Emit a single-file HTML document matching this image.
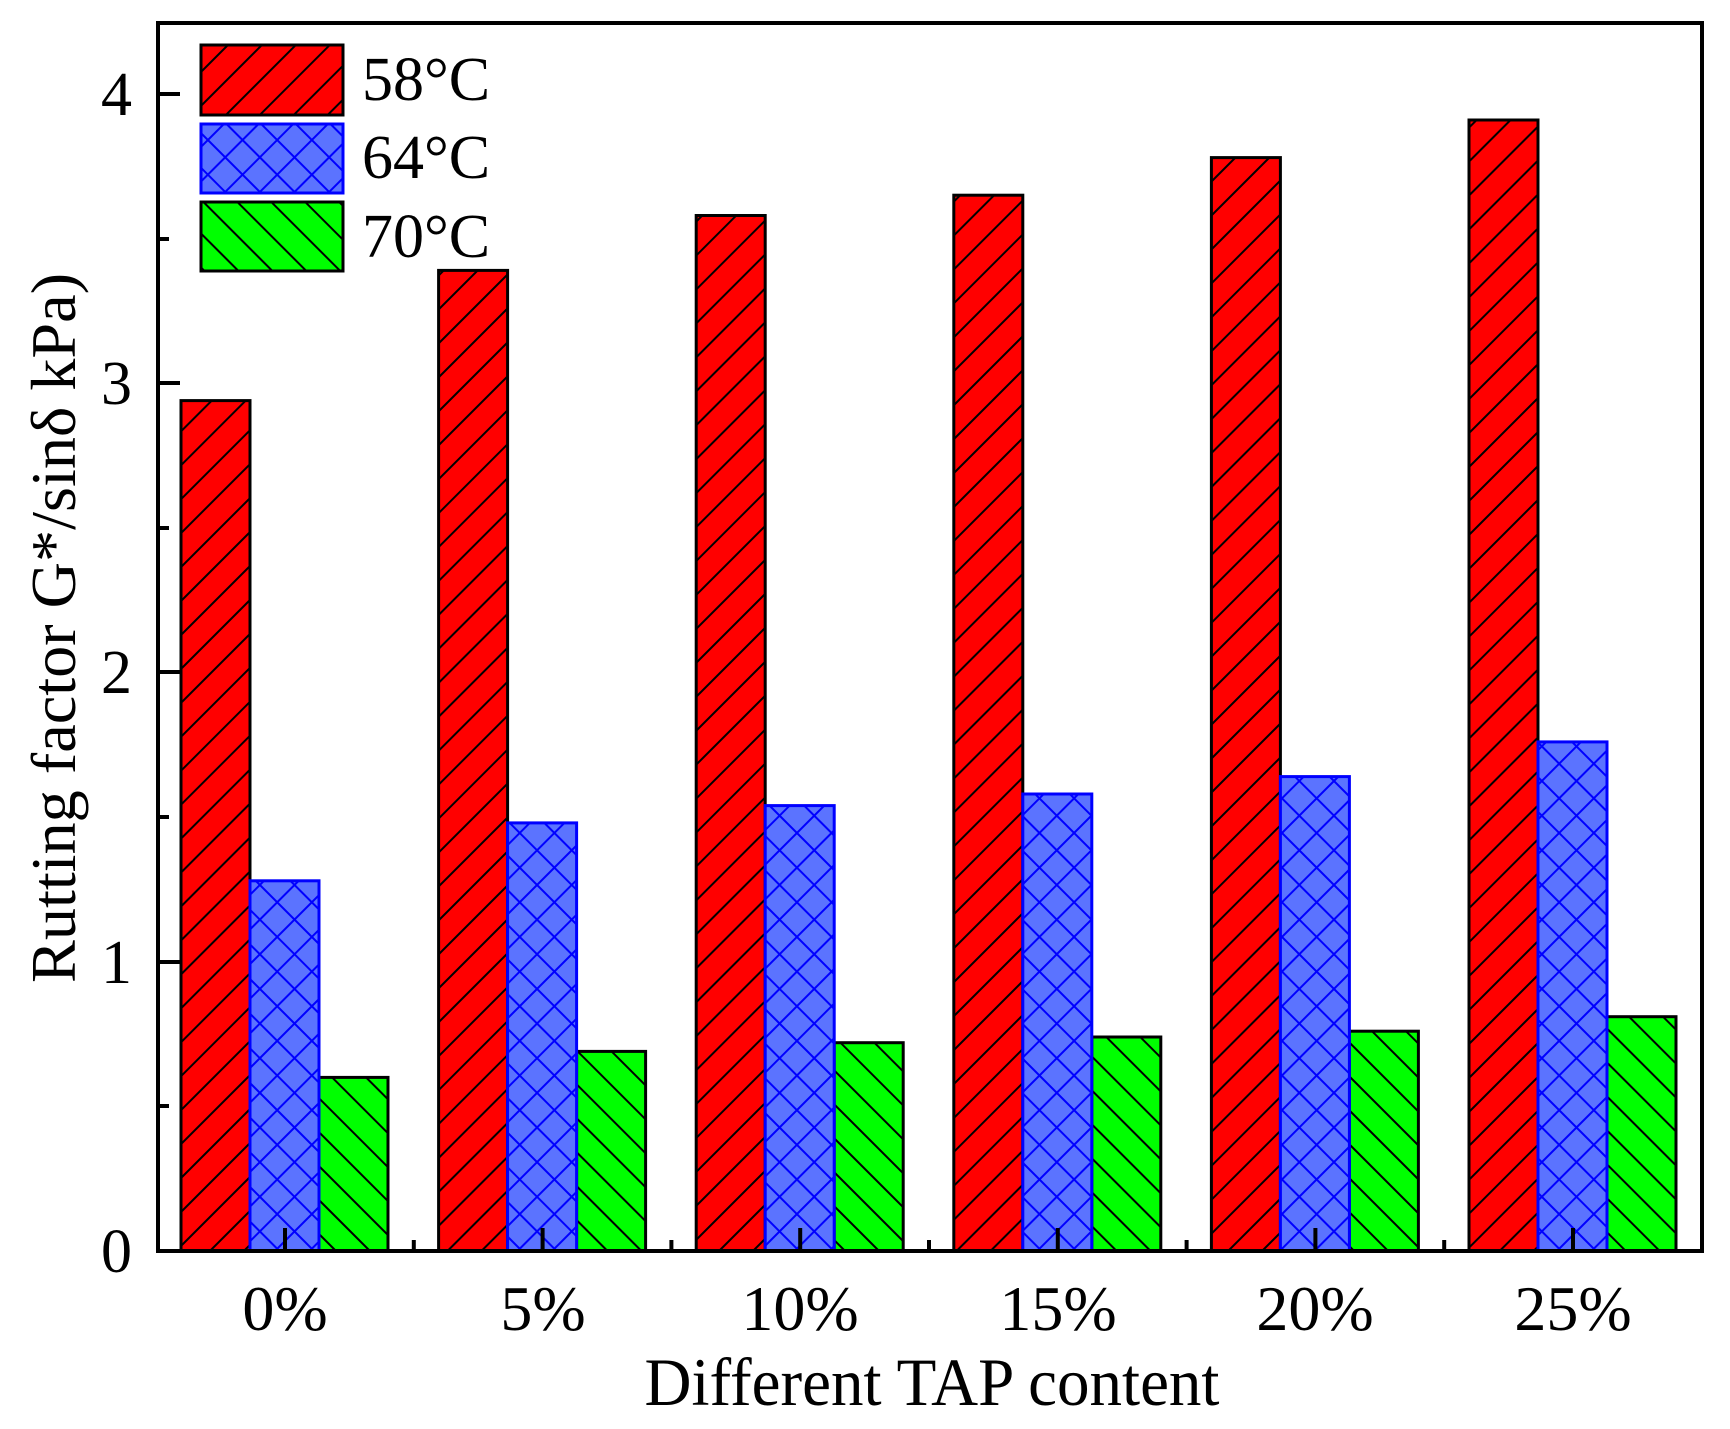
<!DOCTYPE html>
<html><head><meta charset="utf-8"><style>html,body{margin:0;padding:0;background:#fff}svg{display:block}</style></head>
<body>
<svg width="1730" height="1429" viewBox="0 0 1730 1429" xmlns="http://www.w3.org/2000/svg" font-family="'Liberation Serif', serif">
<defs>
<pattern id="pr" width="24" height="24" patternUnits="userSpaceOnUse" patternTransform="rotate(45)">
<rect width="24" height="24" fill="#ff0000"/><line x1="1" y1="0" x2="1" y2="24" stroke="#000" stroke-width="2"/></pattern>
<pattern id="pg" width="24" height="24" patternUnits="userSpaceOnUse" patternTransform="rotate(-45)">
<rect width="24" height="24" fill="#00ff00"/><line x1="1" y1="0" x2="1" y2="24" stroke="#000" stroke-width="2"/></pattern>
<pattern id="pb" width="24.5" height="24.5" patternUnits="userSpaceOnUse" patternTransform="rotate(45)">
<rect width="24.5" height="24.5" fill="#5b73ff"/><line x1="1" y1="0" x2="1" y2="24.5" stroke="#0000ff" stroke-width="2"/><line x1="0" y1="1" x2="24.5" y2="1" stroke="#0000ff" stroke-width="2"/></pattern>
</defs>
<g stroke-width="3">
<g fill="url(#pr)" stroke="#000">
<rect x="181" y="400.6" width="69" height="850.4"/>
<rect x="438.6" y="270.4" width="69" height="980.6"/>
<rect x="696.2" y="215.5" width="69" height="1035.5"/>
<rect x="953.8" y="195.2" width="69" height="1055.8"/>
<rect x="1211.4" y="157.6" width="69" height="1093.4"/>
<rect x="1469" y="120" width="69" height="1131"/>
</g>
<g fill="url(#pg)" stroke="#000">
<rect x="319" y="1077.4" width="69" height="173.6"/>
<rect x="576.6" y="1051.4" width="69" height="199.6"/>
<rect x="834.2" y="1042.7" width="69" height="208.3"/>
<rect x="1091.8" y="1037" width="69" height="214"/>
<rect x="1349.4" y="1031.2" width="69" height="219.8"/>
<rect x="1607" y="1016.7" width="69" height="234.3"/>
</g>
<g fill="url(#pb)" stroke="#0000ff">
<rect x="250" y="880.8" width="69" height="370.2"/>
<rect x="507.6" y="822.9" width="69" height="428.1"/>
<rect x="765.2" y="805.6" width="69" height="445.4"/>
<rect x="1022.8" y="794" width="69" height="457"/>
<rect x="1280.4" y="776.6" width="69" height="474.4"/>
<rect x="1538" y="741.9" width="69" height="509.1"/>
</g>
</g>
<!-- legend -->
<rect x="201" y="45" width="142" height="70" fill="url(#pr)" stroke="#000" stroke-width="3"/>
<rect x="201" y="124" width="142" height="69" fill="url(#pb)" stroke="#0000ff" stroke-width="3"/>
<rect x="201" y="202" width="142" height="69" fill="url(#pg)" stroke="#000" stroke-width="3"/>
<text x="362" y="100" font-size="62">58°C</text>
<text x="362" y="178" font-size="62">64°C</text>
<text x="362" y="257" font-size="62">70°C</text>
<!-- axes -->
<rect x="158" y="23" width="1544" height="1228" fill="none" stroke="#000" stroke-width="4"/>
<g stroke="#000" stroke-width="4">
<line x1="158" y1="1251" x2="180" y2="1251"/>
<line x1="158" y1="962" x2="180" y2="962"/>
<line x1="158" y1="672" x2="180" y2="672"/>
<line x1="158" y1="383" x2="180" y2="383"/>
<line x1="158" y1="94" x2="180" y2="94"/>
<line x1="158" y1="1106" x2="169" y2="1106"/>
<line x1="158" y1="817" x2="169" y2="817"/>
<line x1="158" y1="528" x2="169" y2="528"/>
<line x1="158" y1="239" x2="169" y2="239"/>
<line x1="285" y1="1251" x2="285" y2="1228"/>
<line x1="542.6" y1="1251" x2="542.6" y2="1228"/>
<line x1="800.2" y1="1251" x2="800.2" y2="1228"/>
<line x1="1057.8" y1="1251" x2="1057.8" y2="1228"/>
<line x1="1315.4" y1="1251" x2="1315.4" y2="1228"/>
<line x1="1573" y1="1251" x2="1573" y2="1228"/>
<line x1="413.8" y1="1251" x2="413.8" y2="1240"/>
<line x1="671.4" y1="1251" x2="671.4" y2="1240"/>
<line x1="929" y1="1251" x2="929" y2="1240"/>
<line x1="1186.6" y1="1251" x2="1186.6" y2="1240"/>
<line x1="1444.2" y1="1251" x2="1444.2" y2="1240"/>
</g>
<g font-size="62" text-anchor="end">
<text x="132" y="1272">0</text>
<text x="132" y="983">1</text>
<text x="132" y="693">2</text>
<text x="132" y="404">3</text>
<text x="132" y="115">4</text>
</g>
<g font-size="64" text-anchor="middle">
<text x="285" y="1330">0%</text>
<text x="543" y="1330">5%</text>
<text x="800" y="1330">10%</text>
<text x="1058" y="1330">15%</text>
<text x="1315" y="1330">20%</text>
<text x="1573" y="1330">25%</text>
</g>
<text x="932" y="1405" font-size="68" text-anchor="middle" textLength="575" lengthAdjust="spacingAndGlyphs">Different TAP content</text>
<text transform="translate(75,628) rotate(-90)" font-size="64" text-anchor="middle" textLength="710" lengthAdjust="spacingAndGlyphs">Rutting factor G*/sinδ kPa)</text>
</svg>
</body></html>
